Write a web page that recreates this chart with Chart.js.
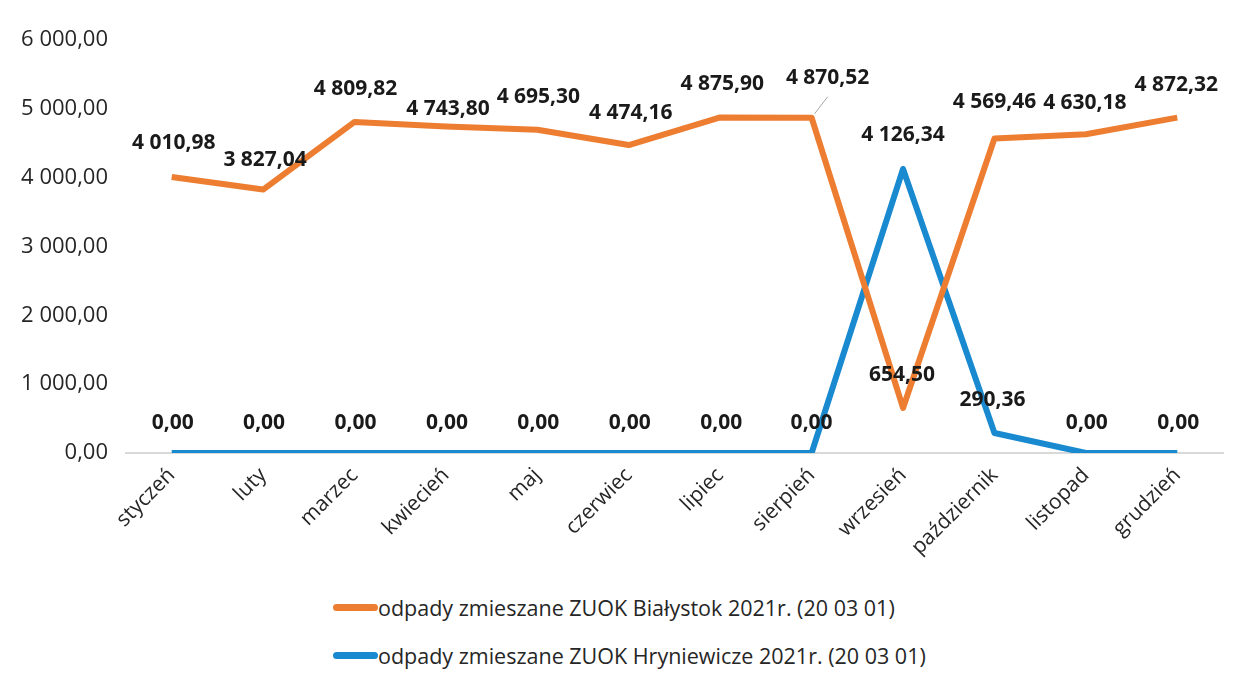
<!DOCTYPE html>
<html>
<head>
<meta charset="utf-8">
<script src="https://cdn.jsdelivr.net/npm/chart.js@4.4.1/dist/chart.umd.min.js"></script>
<style>
    body { margin: 0; background: #fff; font-family: "Open Sans", sans-serif; }
    #wrap { position: relative; width: 1253px; height: 575px; }
    #legend { margin-left: 333px; padding-top: 8px; color: #262626; font-size: 21.5px; }
    .item { display: flex; align-items: center; height: 48px; }
    .swatch { width: 45px; height: 7px; border-radius: 4px; }
</style>
</head>
<body>
<div id="wrap"><canvas id="odpadyChart"></canvas></div>
<div id="legend"></div>
<script>
const months = ["styczeń", "luty", "marzec", "kwiecień", "maj", "czerwiec", "lipiec", "sierpień", "wrzesień", "październik", "listopad", "grudzień"];
const bialystok = [4010.98, 3827.04, 4809.82, 4743.80, 4695.30, 4474.16, 4875.90, 4870.52, 654.50, 4569.46, 4630.18, 4872.32];
const hryniewicze = [0, 0, 0, 0, 0, 0, 0, 0, 4126.34, 290.36, 0, 0];
const seriesNames = [
    "odpady zmieszane ZUOK Białystok 2021r. (20 03 01)",
    "odpady zmieszane ZUOK Hryniewicze 2021r. (20 03 01)"
];
const yMin = 0, yMax = 6000, yStep = 1000;

function fmt(v) {
    const parts = v.toFixed(2).split(".");
    return parts[0].replace(/\B(?=(\d{3})+(?!\d))/g, " ") + "," + parts[1];
}

// label nudges (dx, dy from the point), like hand placed labels in excel
const labelShift = {
    0: [[2, -34], [2, -30], [1, -33], [2, -17], [1, -33], [2, -32], [2, -33], [16, -40, true], [-1, -33], [0, -36], [-1, -31], [-1, -33]],
    1: [[1, -30], [1, -30], [1, -30], [1, -30], [1, -30], [1, -30], [1, -30], [0, -30], [0, -34], [-2, -33], [1, -30], [1, -30]]
};

const dataLabels = {
    id: "dataLabels",
    afterDatasetsDraw(chart) {
        const ctx = chart.ctx;
        ctx.save();
        ctx.font = "bold 21px 'Open Sans'";
        ctx.fillStyle = "#1a1a1a";
        ctx.textAlign = "center";
        ctx.textBaseline = "middle";
        chart.data.datasets.forEach((ds, di) => {
            const meta = chart.getDatasetMeta(di);
            meta.data.forEach((pt, i) => {
                const s = labelShift[di][i];
                const x = pt.x + s[0], y = pt.y + s[1];
                if (s[2]) {
                    ctx.strokeStyle = "#a6a6a6";
                    ctx.lineWidth = 1;
                    ctx.beginPath();
                    ctx.moveTo(x, y + 19);
                    ctx.lineTo(pt.x + 3, pt.y - 4);
                    ctx.stroke();
                }
                ctx.fillText(fmt(ds.data[i]), x, y);
            });
        });
        ctx.restore();
    }
};

const ctx = document.getElementById("odpadyChart").getContext("2d");
const odpadyChart = new Chart(ctx, {
    type: "line",
    data: {
        labels: months,
        datasets: [{
            label: seriesNames[0],
            data: bialystok,
            borderColor: "#ED7D31",
            borderWidth: 6,
            pointRadius: 0,
            tension: 0,
            borderJoinStyle: "round"
        }, {
            label: seriesNames[1],
            data: hryniewicze,
            borderColor: "#1A8AD0",
            borderWidth: 6,
            pointRadius: 0,
            tension: 0,
            borderJoinStyle: "round"
        }]
    },
    options: {
        responsive: true,
        maintainAspectRatio: false,
        animation: false,
        layout: { padding: { top: 40, right: 30, left: 0, bottom: 0 } },
        plugins: {
            legend: { display: false },
            tooltip: { enabled: false }
        },
        scales: {
            x: {
                offset: true,
                grid: { display: false, drawTicks: false },
                border: { display: true, color: "#d9d9d9", width: 2 },
                ticks: {
                    color: "#262626",
                    font: { family: "'Open Sans'", size: 21 },
                    minRotation: 45,
                    maxRotation: 45,
                    padding: 10
                },
                afterFit(scale) { scale.height = 122; }
            },
            y: {
                min: yMin,
                max: yMax,
                grid: { display: false, drawTicks: false },
                border: { display: false },
                ticks: {
                    stepSize: yStep,
                    color: "#262626",
                    font: { family: "'Open Sans'", size: 22 },
                    padding: 18,
                    callback: v => fmt(v)
                },
                afterFit(scale) { scale.width = 126; }
            }
        }
    },
    plugins: [dataLabels]
});

const legend = document.getElementById("legend");
odpadyChart.data.datasets.forEach(ds => {
    const row = document.createElement("div");
    row.className = "item";
    row.innerHTML = `<span class="swatch" style="background:${ds.borderColor}"></span><span>${ds.label}</span>`;
    legend.appendChild(row);
});
</script>
</body>
</html>
